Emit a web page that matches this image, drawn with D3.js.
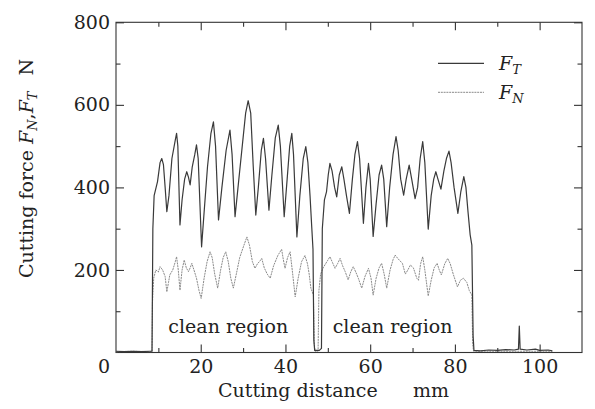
<!DOCTYPE html>
<html>
<head>
<meta charset="utf-8">
<script src="https://cdn.jsdelivr.net/npm/d3@7"></script>
<style>
  html, body { margin: 0; padding: 0; background: #fff; }
  svg { display: block; }
  text { font-family: "DejaVu Serif", serif; fill: #222; }
</style>
</head>
<body>
<svg id="chart" width="595" height="409"></svg>
<script>
// ---------- data ----------
const ftDist = [0,2,4,6,8,8.5,8.7,9.0,9.8,10.4,10.8,11.2,11.6,12.0,12.5,13.2,14.0,14.3,14.6,15.1,15.6,16.2,16.7,17.1,17.5,18.0,18.6,19.0,19.4,20.2,20.8,21.6,22.4,23.0,23.5,24.2,25.0,26.0,26.9,27.4,28.1,29.0,30.0,30.6,31.2,31.8,32.4,33.0,33.6,34.3,34.8,35.3,36.1,36.8,37.6,38.3,38.8,39.7,40.4,41.0,41.5,41.9,42.7,43.4,44.2,44.8,45.3,45.8,46.2,46.5,46.7,46.9,48.0,48.5,48.7,49.2,49.7,50.1,50.5,51.0,51.6,52.1,52.7,53.3,53.8,54.4,55.1,55.8,56.4,57.0,57.5,58.4,59.0,59.6,60.0,60.7,61.4,62.1,62.7,63.2,63.9,64.6,65.4,66.1,66.6,67.2,67.9,68.5,69.2,69.8,70.6,71.2,71.8,72.4,72.9,73.7,74.4,75.0,75.5,76.0,76.7,77.4,78.0,78.6,79.1,79.8,80.7,81.4,82.1,82.6,83.1,83.6,84.0,84.3,84.5,86,88,90,92,94,95.0,95.2,95.4,97,99,100,102,103];
const ftForce = [3,2,3,2,3,3,300,380,414,460,470,455,400,341,380,470,515,531,500,309,370,420,438,425,406,450,480,503,470,256,340,450,530,559,500,321,400,490,539,480,329,420,520,580,610,580,450,333,400,490,519,470,345,430,520,551,500,329,420,500,531,480,280,380,470,499,460,380,305,250,30,5,5,10,300,370,390,430,458,440,400,377,430,450,420,380,337,420,480,511,470,313,400,458,420,281,360,430,454,420,305,400,480,523,490,420,381,420,454,420,373,400,470,511,460,299,380,420,438,420,396,440,470,488,460,400,337,390,426,400,340,285,260,40,5,4,6,5,7,6,8,64,8,6,8,5,6,4];

const fnDist = [0,4,8.5,8.6,8.9,9.4,10.0,10.4,11.0,11.6,12.0,12.4,12.7,13.4,14.0,14.3,14.7,15.1,15.6,16.1,16.6,17.1,17.5,17.9,18.4,19.0,19.6,20.1,20.8,21.5,22.2,22.7,23.3,24.0,24.7,25.3,25.9,26.5,27.1,27.7,28.4,29.2,30.2,30.9,31.5,32.2,32.8,33.4,34.0,34.4,35.0,35.7,36.4,37.2,38.2,39.1,39.5,39.9,40.5,41.1,41.6,42.3,43.0,43.8,44.6,45.2,45.6,46.0,46.6,46.8,47.0,47.7,47.9,48.3,48.9,49.3,49.9,50.5,51.1,51.7,52.3,52.9,53.5,54.1,54.8,55.4,56.0,56.6,57.2,58.0,58.8,59.6,60.2,60.7,61.4,62.1,62.7,63.3,63.9,64.7,65.4,65.9,66.5,67.6,68.3,68.9,69.5,70.2,71.0,71.4,71.9,72.4,72.9,73.7,74.4,75.1,75.8,76.3,76.8,77.6,78.3,78.9,79.6,80.6,81.3,82.0,82.8,83.4,84.0,84.2,84.4,90,103];
const fnForce = [2,3,2,120,180,200,195,208,200,184,147,170,188,200,220,232,200,151,200,224,205,196,205,216,200,180,150,131,180,220,244,230,190,156,200,230,244,220,180,156,190,230,260,280,260,220,204,215,222,228,205,190,180,210,235,250,225,204,230,244,200,135,180,220,235,215,190,156,139,20,3,3,150,190,205,212,222,232,218,204,215,228,210,196,176,195,208,195,180,156,185,204,180,139,180,205,216,190,156,200,225,236,228,216,190,200,212,205,180,175,215,232,200,137,175,205,216,200,188,215,228,215,190,159,175,180,170,150,139,20,3,3,3];

const xMajorTicks = [20,40,60,80,100];
const xMinorTicks = [10,30,50,70,90];
const yMajorTicks = [200,400,600,800];
const yMinorTicks = [100,300,500,700];
const regionLabels = ["clean region","clean region"];
const regionCenters = [26.5, 65.3];   // mm
const legendNames = [["F","T"],["F","N"]];

// ---------- layout ----------
const svg = d3.select("#chart");
const L = 116, R = 582, T = 22.3, B = 352.5;
const x = d3.scaleLinear().domain([0,110]).range([L,R]);
const y = d3.scaleLinear().domain([0,800]).range([B,T]);
const axisColor = "#333";
const fs = 19;

// frame
svg.append("rect").attr("x",L).attr("y",T).attr("width",R-L).attr("height",B-T)
  .attr("fill","none").attr("stroke",axisColor).attr("stroke-width",1.1);

function styleAxis(g){
  g.select(".domain").remove();
  g.selectAll(".tick line").attr("stroke",axisColor).attr("stroke-width",1.1);
  g.selectAll("text").attr("font-family","DejaVu Serif").attr("font-size",fs).attr("fill","#222");
}
// bottom
svg.append("g").attr("transform",`translate(0,${B})`)
  .call(d3.axisBottom(x).tickValues(xMajorTicks).tickSize(-8).tickPadding(7).tickFormat(d3.format("d")))
  .call(styleAxis);
svg.append("g").attr("transform",`translate(0,${B})`)
  .call(d3.axisBottom(x).tickValues(xMinorTicks).tickSize(-4.5).tickFormat(""))
  .call(styleAxis);
// top
svg.append("g").attr("transform",`translate(0,${T})`)
  .call(d3.axisTop(x).tickValues(xMajorTicks).tickSize(-8).tickFormat(""))
  .call(styleAxis);
svg.append("g").attr("transform",`translate(0,${T})`)
  .call(d3.axisTop(x).tickValues(xMinorTicks).tickSize(-4.5).tickFormat(""))
  .call(styleAxis);
// left
svg.append("g").attr("transform",`translate(${L},0)`)
  .call(d3.axisLeft(y).tickValues(yMajorTicks).tickSize(-8).tickPadding(6).tickFormat(d3.format("d")))
  .call(styleAxis);
svg.append("g").attr("transform",`translate(${L},0)`)
  .call(d3.axisLeft(y).tickValues(yMinorTicks).tickSize(-4.5).tickFormat(""))
  .call(styleAxis);
// right
svg.append("g").attr("transform",`translate(${R},0)`)
  .call(d3.axisRight(y).tickValues(yMajorTicks).tickSize(-8).tickFormat(""))
  .call(styleAxis);
svg.append("g").attr("transform",`translate(${R},0)`)
  .call(d3.axisRight(y).tickValues(yMinorTicks).tickSize(-4.5).tickFormat(""))
  .call(styleAxis);
// shared zero label
svg.append("text").attr("x",L-6).attr("y",373).attr("text-anchor","end")
  .attr("font-size",fs).text("0");

// ---------- lines ----------
const line = d3.line().x(d=>x(d[0])).y(d=>y(d[1]));
const fn = fnDist.map((d,i)=>[d,fnForce[i]]);
const ft = ftDist.map((d,i)=>[d,ftForce[i]]);
svg.append("path").datum(fn).attr("d",line).attr("fill","none")
  .attr("stroke","#8a8a8a").attr("stroke-width",1).attr("stroke-dasharray","2,0.8");
svg.append("path").datum(ft).attr("d",line).attr("fill","none")
  .attr("stroke","#3a3a3a").attr("stroke-width",1.2).attr("stroke-linejoin","round");

// region labels
svg.selectAll("text.region").data(regionLabels).enter().append("text")
  .attr("class","region").attr("x",(d,i)=>x(regionCenters[i])).attr("y",333)
  .attr("text-anchor","middle").attr("font-size",fs).text(d=>d);

// ---------- legend ----------
const legY = [63.3, 92.3];
const legStroke = ["#3a3a3a","#8a8a8a"];
const legDash = [null,"2,0.8"];
legendNames.forEach((n,i)=>{
  svg.append("line").attr("x1",438).attr("x2",484).attr("y1",legY[i]).attr("y2",legY[i])
    .attr("stroke",legStroke[i]).attr("stroke-width",i?1:1.2).attr("stroke-dasharray",legDash[i]);
  const t = svg.append("text").attr("x",499).attr("y",legY[i]+7).attr("font-size",fs);
  t.append("tspan").attr("font-style","italic").text(n[0]);
  t.append("tspan").attr("font-style","italic").attr("font-size",13).attr("dy",4).text(n[1]);
});

// ---------- axis titles ----------
svg.append("text").attr("x",218).attr("y",397).attr("font-size",fs).text("Cutting distance");
svg.append("text").attr("x",413).attr("y",397).attr("font-size",fs).text("mm");

const yt = svg.append("text").attr("transform","translate(33,278) rotate(-90)").attr("font-size",fs);
yt.append("tspan").text("Cutting force ");
yt.append("tspan").attr("font-style","italic").text("F");
yt.append("tspan").attr("font-style","italic").attr("font-size",13).attr("dy",4).text("N");
yt.append("tspan").attr("dy",-4).text(",");
yt.append("tspan").attr("font-style","italic").text("F");
yt.append("tspan").attr("font-style","italic").attr("font-size",13).attr("dy",4).text("T");
yt.append("tspan").attr("dy",-4).attr("dx",16).text("N");
</script>
</body>
</html>
